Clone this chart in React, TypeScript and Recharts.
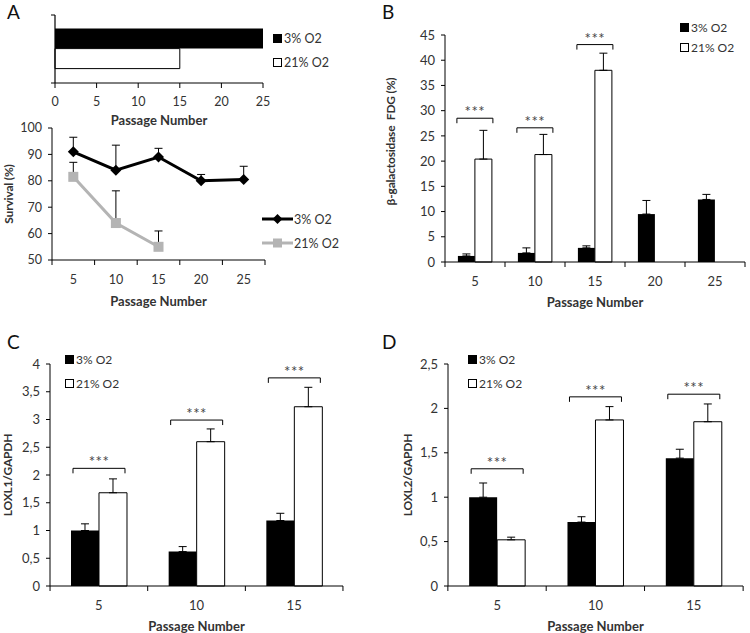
import React from 'react';
import { BarChart, Bar, LineChart, Line, XAxis, YAxis, ErrorBar, LabelList, Legend, ReferenceLine } from 'recharts';

const FONT = 'Lato, "Open Sans", "DejaVu Sans", sans-serif';
const INK = '#000';
const TEXT = '#333';
const GREY = '#b4b4b4';

// A (top): last passage reached
const lifespanGroup = ['lifespan'];
const lifespan3 = [25];
const lifespan21 = [15];
const lifespanTicks = [0, 5, 10, 15, 20, 25];

// A (bottom): survival (%)
const survivalPassage = [5, 10, 15, 20, 25];
const survival3 = [91, 84, 89, 80, 80.5];
const survival3Err = [5.5, 9.5, 3.3, 2.4, 5];
const survival21 = [81.5, 64, 55, null, null];
const survival21Err = [5.5, 12.2, 6, null, null];
const survivalTicks = [50, 60, 70, 80, 90, 100];

// B: beta-galactosidase FDG (%)
const fdgPassage = ['5', '10', '15', '20', '25'];
const fdg3 = [1.2, 1.8, 2.8, 9.5, 12.4];
const fdg3Err = [0.4, 1.0, 0.4, 2.7, 1.0];
const fdg21 = [20.4, 21.3, 38.0, null, null];
const fdg21Err = [5.7, 4.0, 3.4, null, null];
const fdgSig = [28.5, 26.6, 43.1, null, null];
const fdgTicks = [0, 5, 10, 15, 20, 25, 30, 35, 40, 45];

// C: LOXL1/GAPDH
const loxPassage = ['5', '10', '15'];
const loxl1_3 = [1.0, 0.62, 1.18];
const loxl1_3Err = [0.12, 0.09, 0.13];
const loxl1_21 = [1.68, 2.6, 3.23];
const loxl1_21Err = [0.25, 0.23, 0.35];
const loxl1Sig = [2.12, 2.99, 3.75];
const loxl1Ticks = [0, 0.5, 1, 1.5, 2, 2.5, 3, 3.5, 4];

// D: LOXL2/GAPDH
const loxl2_3 = [1.0, 0.72, 1.44];
const loxl2_3Err = [0.16, 0.06, 0.1];
const loxl2_21 = [0.52, 1.87, 1.85];
const loxl2_21Err = [0.03, 0.15, 0.2];
const loxl2Sig = [1.32, 2.13, 2.16];
const loxl2Ticks = [0, 0.5, 1, 1.5, 2, 2.5];

type Row = { p: string | number; a: number | null; ea: number | null; b: number | null; eb: number | null; sig: number | null };

const rows = (p: (string | number)[], a: (number | null)[], ea: (number | null)[], b: (number | null)[], eb: (number | null)[], sig?: (number | null)[]): Row[] =>
  p.map((v, i) => ({ p: v, a: a[i], ea: ea[i], b: b[i], eb: eb[i], sig: sig ? sig[i] ?? null : null }));

const lifespanRows = rows(lifespanGroup, lifespan3, [null], lifespan21, [null]);
const survivalRows = rows(survivalPassage, survival3, survival3Err, survival21, survival21Err);
const fdgRows = rows(fdgPassage, fdg3, fdg3Err, fdg21, fdg21Err, fdgSig);
const loxl1Rows = rows(loxPassage, loxl1_3, loxl1_3Err, loxl1_21, loxl1_21Err, loxl1Sig);
const loxl2Rows = rows(loxPassage, loxl2_3, loxl2_3Err, loxl2_21, loxl2_21Err, loxl2Sig);

// only the upper half of each error bar is shown
const up = (k: 'ea' | 'eb') => (d: any) => (d[k] == null ? null : [0, d[k]]);
const comma = (v: number) => String(v).replace('.', ',');

const tickStyle = (size: number) => ({ fontSize: size, fill: TEXT, fontFamily: FONT });
const titleStyle = { fontSize: 13, fontWeight: 700, fill: TEXT, fontFamily: FONT };
const xTitle = (offset: number) => ({ value: 'Passage Number', position: 'insideBottom' as const, offset, ...titleStyle });

const TICK = 5;
const GAP = 10;

// category labels at band centres, tick marks on band edges (Excel style)
function BandTickX(props: any) {
  const { x, y, payload, half, lastValue, size } = props;
  const axisY = y - TICK - GAP;
  return (
    <g>
      <line x1={x - half} x2={x - half} y1={axisY} y2={axisY + TICK} stroke={INK} />
      {String(payload.value) === String(lastValue) && (
        <line x1={x + half} x2={x + half} y1={axisY} y2={axisY + TICK} stroke={INK} />
      )}
      <text x={x} y={y} dy="0.71em" textAnchor="middle" {...tickStyle(size)}>
        {payload.value}
      </text>
    </g>
  );
}

// left axis of the lifespan panel: a line at passage 0 with ticks at both band edges
const EdgeAxis = (p: any) => {
  const { x1, y1, x2, y2 } = p;
  if (x1 == null || y1 == null) return <g />;
  const top = Math.min(y1, y2);
  const bottom = Math.max(y1, y2);
  return (
    <g>
      <line x1={x1} x2={x2} y1={y1} y2={y2} stroke={INK} strokeWidth={1.2} />
      <line x1={x1 - 4} x2={x1} y1={top} y2={top} stroke={INK} />
      <line x1={x1 - 4} x2={x1} y1={bottom} y2={bottom} stroke={INK} />
    </g>
  );
};

const sideTitle = (text: string, x: number, dy = 0) => (props: any) => {
  const vb = props.viewBox ?? {};
  const cy = (vb.y ?? 0) + (vb.height ?? 0) / 2 + dy;
  return (
    <text x={x} y={cy} transform={`rotate(-90 ${x} ${cy})`} textAnchor="middle" dominantBaseline="central" {...titleStyle} fontSize={12} letterSpacing={-0.2}>
      {text}
    </text>
  );
};

// significance bracket over a pair of bars, drawn from the white bar's geometry
const bracket = (data: Row[], inset: number) => (props: any) => {
  const row = data[props.index];
  const vb = props.viewBox ?? props;
  if (!row || row.sig == null || row.b == null || !vb || !vb.height) return null;
  const base = vb.y + vb.height;
  const yy = base - (row.sig / row.b) * vb.height;
  const left = vb.x - vb.width + inset;
  const right = vb.x + vb.width - inset;
  return (
    <g>
      <path d={`M${left},${yy + 5}V${yy}H${right}V${yy + 5}`} fill="none" stroke={INK} strokeWidth={1} />
      <text x={(left + right) / 2} y={yy - 1} textAnchor="middle" fontSize={15} letterSpacing={0.5} fill="#444" fontFamily={FONT}>
        ***
      </text>
    </g>
  );
};

function Swatch({ type, color }: { type: string; color: string }) {
  if (type === 'diamond' || type === 'square') {
    return (
      <svg width={31} height={10} style={{ marginRight: 1 }}>
        <line x1={0} x2={31} y1={5} y2={5} stroke={color} strokeWidth={3} />
        {type === 'diamond' ? (
          <path d="M15.5 0 L20.5 5 L15.5 10 L10.5 5Z" fill={color} />
        ) : (
          <rect x={11} y={0.5} width={9} height={9} fill={color} />
        )}
      </svg>
    );
  }
  return (
    <svg width={9} height={9} style={{ marginRight: 2 }}>
      <rect x={0.5} y={0.5} width={8} height={8} fill={color} stroke={INK} />
    </svg>
  );
}

const keyContent = (rowH: number, size: number) => (props: any) => (
  <div style={{ fontFamily: FONT, fontSize: size, color: TEXT }}>
    {(props.payload ?? []).map((e: any) => (
      <div key={e.value} style={{ display: 'flex', alignItems: 'center', height: rowH, whiteSpace: 'nowrap' }}>
        <Swatch type={e.type} color={e.color} />
        {e.value}
      </div>
    ))}
  </div>
);

const key = (left: number, top: number, rowH: number, size = 12.5) => (
  <Legend
    layout="vertical"
    align="center"
    verticalAlign="middle"
    itemSorter="dataKey"
    wrapperStyle={{ left, top, width: 'auto', height: 'auto' }}
    content={keyContent(rowH, size)}
  />
);

const Diamond = (p: any) =>
  p.cx == null || p.cy == null ? null : (
    <path key={p.key} d={`M${p.cx} ${p.cy - 5.5}L${p.cx + 5.5} ${p.cy}L${p.cx} ${p.cy + 5.5}L${p.cx - 5.5} ${p.cy}Z`} fill={INK} />
  );

const SquareDot = (p: any) =>
  p.cx == null || p.cy == null ? null : <rect key={p.key} x={p.cx - 5} y={p.cy - 5} width={10} height={10} fill={GREY} />;

const W = 375;

function PairBars({ data, ticks, domain, fmt, title, titleX, titleDy, margin, half, sigInset, legendAt }: any) {
  return (
    <BarChart width={W} height={margin.h} data={data} margin={margin.m} barCategoryGap="21.5%" barGap={0}>
      <XAxis
        dataKey="p"
        interval={0}
        tickLine={false}
        tickSize={TICK}
        tickMargin={GAP}
        height={47}
        stroke={INK}
        tick={(p: any) => <BandTickX {...p} half={half} size={13} lastValue={data[data.length - 1].p} />}
        label={xTitle(2)}
      />
      <YAxis
        domain={domain}
        ticks={ticks}
        interval={0}
        width={40}
        tickSize={4}
        tickMargin={6}
        stroke={INK}
        tick={tickStyle(13)}
        tickFormatter={fmt}
        label={{ content: sideTitle(title, titleX, titleDy) }}
      />
      <Bar dataKey="a" name="3% O2" fill={INK} isAnimationActive={false}>
        <ErrorBar dataKey={up('ea')} width={4} stroke={INK} strokeWidth={1} isAnimationActive={false} />
      </Bar>
      <Bar dataKey="b" name="21% O2" fill="#fff" stroke={INK} strokeWidth={1} isAnimationActive={false}>
        <ErrorBar dataKey={up('eb')} width={4} stroke={INK} strokeWidth={1} isAnimationActive={false} />
        <LabelList dataKey="sig" content={bracket(data, sigInset)} />
      </Bar>
      {key(legendAt[0], legendAt[1], legendAt[2], 12)}
    </BarChart>
  );
}

const tag = (t: string, left: number, top: number) => (
  <div style={{ position: 'absolute', left, top, fontFamily: FONT, fontSize: 19, color: '#111' }}>{t}</div>
);

export default function App() {
  return (
    <div style={{ position: 'absolute', left: 0, top: 0, width: 750, height: 633, background: '#fff', overflow: 'hidden' }}>
      {tag('A', 7, 0)}
      {tag('B', 382, 0)}
      {tag('C', 7, 330)}
      {tag('D', 382, 330)}

      <div style={{ position: 'absolute', left: 0, top: 0 }}>
        <BarChart width={W} height={135} data={lifespanRows} layout="vertical" margin={{ top: 15, right: 112, bottom: 5, left: 55 }} barCategoryGap="20%" barGap={0}>
          <XAxis type="number" domain={[0, 25]} ticks={lifespanTicks} interval={0} tickSize={5} tickMargin={9} height={47} stroke={INK} tick={tickStyle(12.5)} label={xTitle(5)} />
          <YAxis type="category" dataKey="p" hide />
          <Bar dataKey="a" name="3% O2" fill={INK} isAnimationActive={false} />
          <Bar dataKey="b" name="21% O2" fill="#fff" stroke={INK} strokeWidth={1} isAnimationActive={false} />
          <ReferenceLine x={lifespanTicks[0]} stroke={INK} shape={EdgeAxis} />
          {key(273, 27, 23.4)}
        </BarChart>
      </div>

      <div style={{ position: 'absolute', left: 0, top: 110 }}>
        <LineChart width={W} height={210} data={survivalRows} margin={{ top: 18, right: 110, bottom: 13, left: 12 }}>
          <XAxis
            dataKey="p"
            type="number"
            domain={[2.5, 27.5]}
            ticks={survivalPassage}
            interval={0}
            tickLine={false}
            tickSize={TICK}
            tickMargin={GAP}
            height={47}
            stroke={INK}
            tick={(p: any) => <BandTickX {...p} half={21.3} size={12.5} lastValue={25} />}
            label={xTitle(1)}
          />
          <YAxis domain={[50, 100]} ticks={survivalTicks} interval={0} width={40} tickSize={4} tickMargin={6} stroke={INK} tick={tickStyle(12.5)} label={{ content: sideTitle('Survival (%)', 8) }} />
          <Line dataKey="a" name="3% O2" stroke={INK} strokeWidth={3} dot={Diamond} legendType="diamond" isAnimationActive={false}>
            <ErrorBar dataKey={up('ea')} width={4} stroke={INK} strokeWidth={1} isAnimationActive={false} />
          </Line>
          <Line dataKey="b" name="21% O2" stroke={GREY} strokeWidth={3} dot={SquareDot} legendType="square" isAnimationActive={false}>
            <ErrorBar dataKey={up('eb')} width={4} stroke={INK} strokeWidth={1} isAnimationActive={false} />
          </Line>
          {key(262, 97, 24)}
        </LineChart>
      </div>

      <div style={{ position: 'absolute', left: 375, top: 0 }}>
        <PairBars
          data={fdgRows}
          ticks={fdgTicks}
          domain={[0, 45]}
          title={'β-galactosidase\u00a0 FDG (%)'}
          titleX={15}
          titleDy={-7}
          margin={{ h: 320, m: { top: 35, right: 5, bottom: 11, left: 30 } }}
          half={30}
          sigInset={-1}
          legendAt={[305, 17, 20]}
        />
      </div>

      <div style={{ position: 'absolute', left: 0, top: 330 }}>
        <PairBars
          data={loxl1Rows}
          ticks={loxl1Ticks}
          domain={[0, 4]}
          fmt={comma}
          title="LOXL1/GAPDH"
          titleX={7}
          titleDy={0}
          margin={{ h: 303, m: { top: 34, right: 32, bottom: 0, left: 10 } }}
          half={48.8}
          sigInset={2}
          legendAt={[65, 17, 24]}
        />
      </div>

      <div style={{ position: 'absolute', left: 375, top: 330 }}>
        <PairBars
          data={loxl2Rows}
          ticks={loxl2Ticks}
          domain={[0, 2.5]}
          fmt={comma}
          title="LOXL2/GAPDH"
          titleX={32}
          titleDy={0}
          margin={{ h: 303, m: { top: 34, right: 7, bottom: 0, left: 33 } }}
          half={49.3}
          sigInset={2}
          legendAt={[93, 17, 24]}
        />
      </div>
    </div>
  );
}
